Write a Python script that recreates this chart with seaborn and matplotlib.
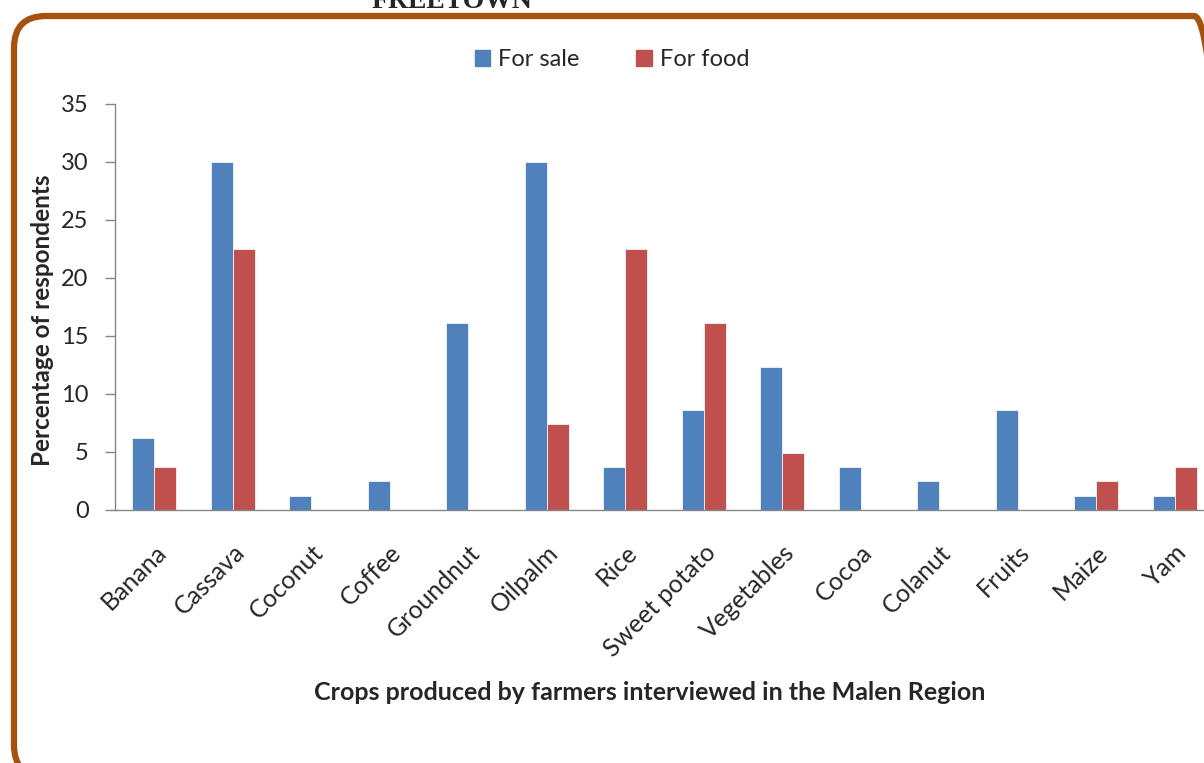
import numpy as np
import pandas as pd
import matplotlib.pyplot as plt
import seaborn as sns
from matplotlib.patches import FancyBboxPatch

# data
crops = ['Banana', 'Cassava', 'Coconut', 'Coffee', 'Groundnut', 'Oilpalm', 'Rice',
         'Sweet potato', 'Vegetables', 'Cocoa', 'Colanut', 'Fruits', 'Maize', 'Yam']
for_sale = [6.2, 30.0, 1.2, 2.5, 16.1, 30.0, 3.7, 8.6, 12.3, 3.7, 2.5, 8.6, 1.2, 1.2]
for_food = [3.7, 22.5, 0.0, 0.0, 0.0, 7.4, 22.5, 16.1, 4.9, 0.0, 0.0, 0.0, 2.5, 3.7]
series = ['For sale', 'For food']
colors = ['#4F81BD', '#C0504D']

df = pd.DataFrame({
    'Crop': crops * 2,
    'Use': [series[0]] * len(crops) + [series[1]] * len(crops),
    'Percent': for_sale + for_food,
})

sns.set_style('white')
plt.rcParams['font.family'] = ['Lato', 'DejaVu Sans']

W, H = 1204, 763
fig = plt.figure(figsize=(W / 100, H / 100), dpi=100)
ax = fig.add_axes([115 / W, 1 - 510 / H, (1214 - 115) / W, (510 - 104) / H])

sns.barplot(data=df, x='Crop', y='Percent', hue='Use', order=crops, hue_order=series,
            palette=colors, saturation=1, width=0.56, edgecolor='white', linewidth=0.5, ax=ax)

ax.set_xlim(-0.5, 13.5)
ax.set_ylim(0, 35)
ax.set_yticks(range(0, 36, 5))
ax.tick_params(axis='y', labelsize=17, length=7, width=1, color='#868686', pad=12, direction='out')
ax.tick_params(axis='x', which='major', length=0, pad=22, labelsize=18)
ax.set_xticks(np.arange(-0.5, 14, 1), minor=True)
ax.tick_params(axis='x', which='minor', length=8, width=1, color='#868686', direction='out')
ax.tick_params(axis='both', left=True, bottom=True)
ax.set_xticks(range(len(crops)))
ax.set_xticklabels(crops, rotation=45, ha='right', rotation_mode='anchor')

for s in ['top', 'right']:
    ax.spines[s].set_visible(False)
for s in ['left', 'bottom']:
    ax.spines[s].set_color('#868686')
    ax.spines[s].set_linewidth(1)

ax.set_ylabel('Percentage of respondents', fontsize=17.5, fontweight='bold')
ax.yaxis.set_label_coords((42 - 115) / 1099, (510 - 320) / 406)
ax.yaxis.label.set_va('center')
ax.set_xlabel('Crops produced by farmers interviewed in the Malen Region', fontsize=18, fontweight='bold')
ax.xaxis.set_label_coords((650 - 115) / 1099, (510 - 693) / 406)
ax.xaxis.label.set_va('center')

ax.get_legend().remove()
handles = [plt.Rectangle((0, 0), 1, 1, color=c) for c in colors]
fig.legend(handles, series, loc='center', bbox_to_anchor=(612 / W, 1 - 60 / H),
           ncol=2, frameon=False, fontsize=17, handlelength=0.65, handleheight=0.65,
           handletextpad=0.35, columnspacing=2.4)

# rounded frame and clipped heading
frame = FancyBboxPatch((14, -14), 1212, H - 16 + 14, boxstyle='round,pad=0,rounding_size=32',
                       transform=None, fill=False, edgecolor='#A5520F', linewidth=4.5)
fig.patches.append(frame)
fig.text(452 / W, 1 - 8 / H, 'FREETOWN', ha='center', va='baseline', fontsize=20,
         fontweight='bold', family='Liberation Serif')

fig.savefig('out.png', dpi=100)
